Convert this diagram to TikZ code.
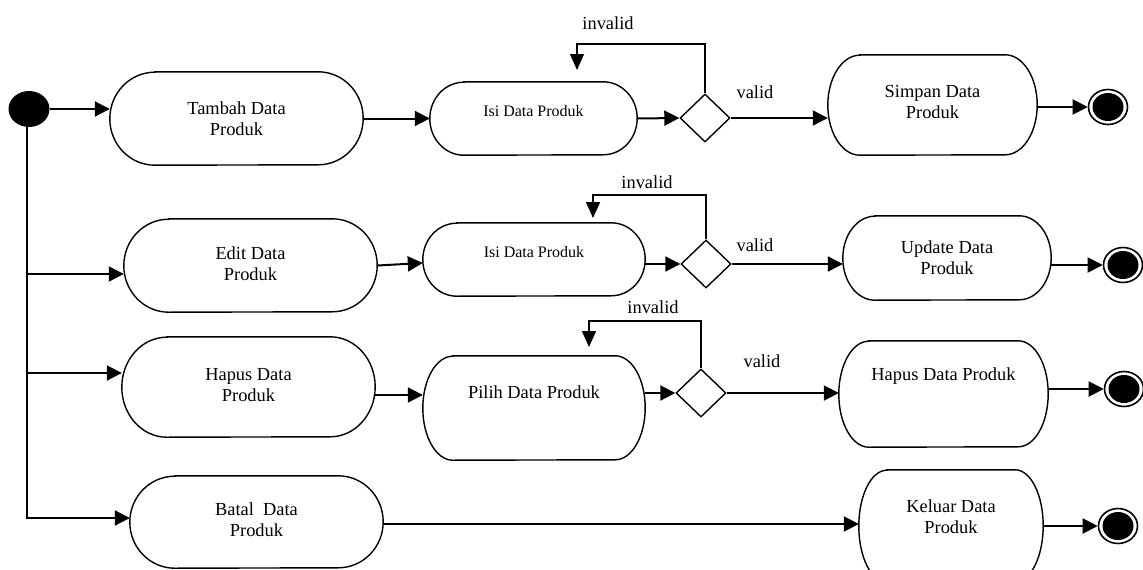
\documentclass[tikz,border=0pt]{standalone}
\usepackage{fontspec}
\setmainfont{Liberation Serif}
\usetikzlibrary{arrows.meta,shapes.geometric}
\newcommand\txtA{\fontsize{18.4}{21}\selectfont}
\newcommand\txtB{\fontsize{16}{19}\selectfont}
% outline with elliptical corners: node, x radius, y radius
\newcommand\actoutline[3]{%
  \draw[outline] ([xshift=#2]#1.north west) -- ([xshift=-#2]#1.north east)
    arc[start angle=90,end angle=0,x radius=#2,y radius=#3]
    arc[start angle=0,end angle=-90,x radius=#2,y radius=#3]
    -- ([xshift=#2]#1.south west)
    arc[start angle=-90,end angle=-180,x radius=#2,y radius=#3]
    arc[start angle=180,end angle=90,x radius=#2,y radius=#3] -- cycle;}
\tikzset{
  act/.style={inner sep=0pt, align=center, font=\txtA},
  actsmall/.style={act, font=\txtB},
  outline/.style={line width=1.4pt},
  arr/.style={line width=2pt, -{Triangle[length=15pt,width=15pt]}},
  looparr/.style={line width=1.5pt, -{Triangle[length=16pt,width=14pt]}},
  dec/.style={diamond, draw, line width=1.4pt, minimum width=50pt, minimum height=48pt, inner sep=0pt},
  startnode/.style={ellipse, fill=black, minimum width=41pt, minimum height=36pt, inner sep=0pt},
  endnode/.style={ellipse, draw, line width=1.6pt, fill=white, minimum width=39pt, minimum height=35pt, inner sep=0pt},
  endcore/.style={x radius=15.5pt, y radius=14pt},
  lbl/.style={font=\txtA, inner sep=0pt},
  lift/.style={text depth=#1},
}
\begin{document}
\begin{tikzpicture}[x=1pt,y=-1pt]
\useasboundingbox (0,0) rectangle (1143,570);
\clip (0,0) rectangle (1143,570);

% start
\node[startnode] (start) at (29,109) {};

% row 1
\node[act, minimum width=253pt, minimum height=93pt] (tambah) at (236.5,118.5) {Tambah Data\\Produk};
\actoutline{tambah}{45pt}{46.5pt}
\node[actsmall, minimum width=207pt, minimum height=73pt, lift=15pt] (isi1) at (533.5,118.5) {Isi Data Produk};
\actoutline{isi1}{34pt}{36.5pt}
\node[dec] (dia1) at (705,118) {};
\node[act, minimum width=209pt, minimum height=100pt, lift=7pt] (simpan) at (932.5,105) {Simpan Data\\Produk};
\actoutline{simpan}{32pt}{50pt}
\node[endnode] (end1) at (1108,107) {};
\fill (end1.center) ellipse [endcore];
\node[lbl] (inv1) at (608,23) {invalid};
\node[lbl] (val1) at (755,92) {valid};

% row 2
\node[act, minimum width=253pt, minimum height=93pt, lift=4pt] (edit) at (250.5,265.5) {Edit Data\\Produk};
\actoutline{edit}{45pt}{46.5pt}
\node[actsmall, minimum width=222pt, minimum height=73pt, lift=15pt] (isi2) at (534,259.5) {Isi Data Produk};
\actoutline{isi2}{34pt}{36.5pt}
\node[dec] (dia2) at (706,264) {};
\node[act, minimum width=208pt, minimum height=84pt] (update) at (947,258) {Update Data\\Produk};
\actoutline{update}{32pt}{42pt}
\node[endnode] (end2) at (1123,265) {};
\fill (end2.center) ellipse [endcore];
\node[lbl] (inv2) at (647,182) {invalid};
\node[lbl] (val2) at (755,245) {valid};

% row 3
\node[act, minimum width=253pt, minimum height=100pt, lift=4pt] (hapus) at (248.5,387) {Hapus Data\\Produk};
\actoutline{hapus}{45pt}{50pt}
\node[act, minimum width=222pt, minimum height=104pt, lift=32pt] (pilih) at (534,408) {Pilih Data Produk};
\actoutline{pilih}{30pt}{52pt}
\node[dec] (dia3) at (701,393) {};
\node[act, minimum width=209pt, minimum height=106pt, lift=40pt] (hapus2) at (943.5,394) {Hapus Data Produk};
\actoutline{hapus2}{30pt}{53pt}
\node[endnode] (end3) at (1124,389) {};
\fill (end3.center) ellipse [endcore];
\node[lbl] (inv3) at (653,307) {invalid};
\node[lbl] (val3) at (762,361) {valid};

% row 4
\node[act, minimum width=253pt, minimum height=92pt, lift=5pt] (batal) at (256.5,522) {Batal\ \ Data\\Produk};
\actoutline{batal}{45pt}{46pt}
\node[act, minimum width=184pt, minimum height=112pt, lift=19pt] (keluar) at (951,526) {Keluar Data\\Produk};
\actoutline{keluar}{28pt}{56pt}
\node[endnode] (end4) at (1118,526) {};
\fill (end4.center) ellipse [endcore];

% trunk and branches
\coordinate (b1) at (27,274);
\coordinate (b2) at (27,373);
\coordinate (b3) at (27,518);
\draw[arr] (start.east) -- (start.east -| tambah.west);
\draw[arr] (start.south -| b3) -- (b3) -- (b3 -| batal.west);
\draw[arr] (b1) -- (b1 -| edit.west);
\draw[arr] (b2) -- (b2 -| hapus.west);

% row 1 connectors
\draw[arr] (tambah.east) -- (isi1.west);
\draw[arr] (isi1.east) -- (dia1.west);
\draw[arr] (dia1.east) -- (dia1.east -| simpan.west);
\draw[arr] (simpan.east |- end1) -- (end1);
\coordinate (l1a) at (577,44);
\coordinate (l1b) at (577,70);
\draw[looparr] (dia1.north) |- (l1a) -- (l1b);

% row 2 connectors
\draw[arr] (edit.east) -- ([yshift=-3.5pt]isi2.west);
\draw[arr] (isi2.east |- dia2) -- (dia2.west);
\draw[arr] (dia2.east) -- (dia2.east -| update.west);
\draw[arr] (update.east |- end2) -- (end2);
\coordinate (l2a) at (593,195);
\coordinate (l2b) at (593,218);
\draw[looparr] (dia2.north) |- (l2a) -- (l2b);

% row 3 connectors
\draw[arr] ([yshift=-8pt]hapus.east) -- ([yshift=-8pt]hapus.east -| pilih.west);
\draw[arr] (pilih.east |- dia3) -- (dia3.west);
\draw[arr] (dia3.east) -- (dia3.east -| hapus2.west);
\draw[arr] (hapus2.east |- end3) -- (end3);
\coordinate (l3a) at (589,321);
\coordinate (l3b) at (589,347);
\draw[looparr] (dia3.north) |- (l3a) -- (l3b);

% row 4 connectors
\draw[arr] ([yshift=-2pt]batal.east) -- ([yshift=-2pt]batal.east -| keluar.west);
\draw[arr] (keluar.east |- end4) -- (end4);
\end{tikzpicture}
\end{document}
